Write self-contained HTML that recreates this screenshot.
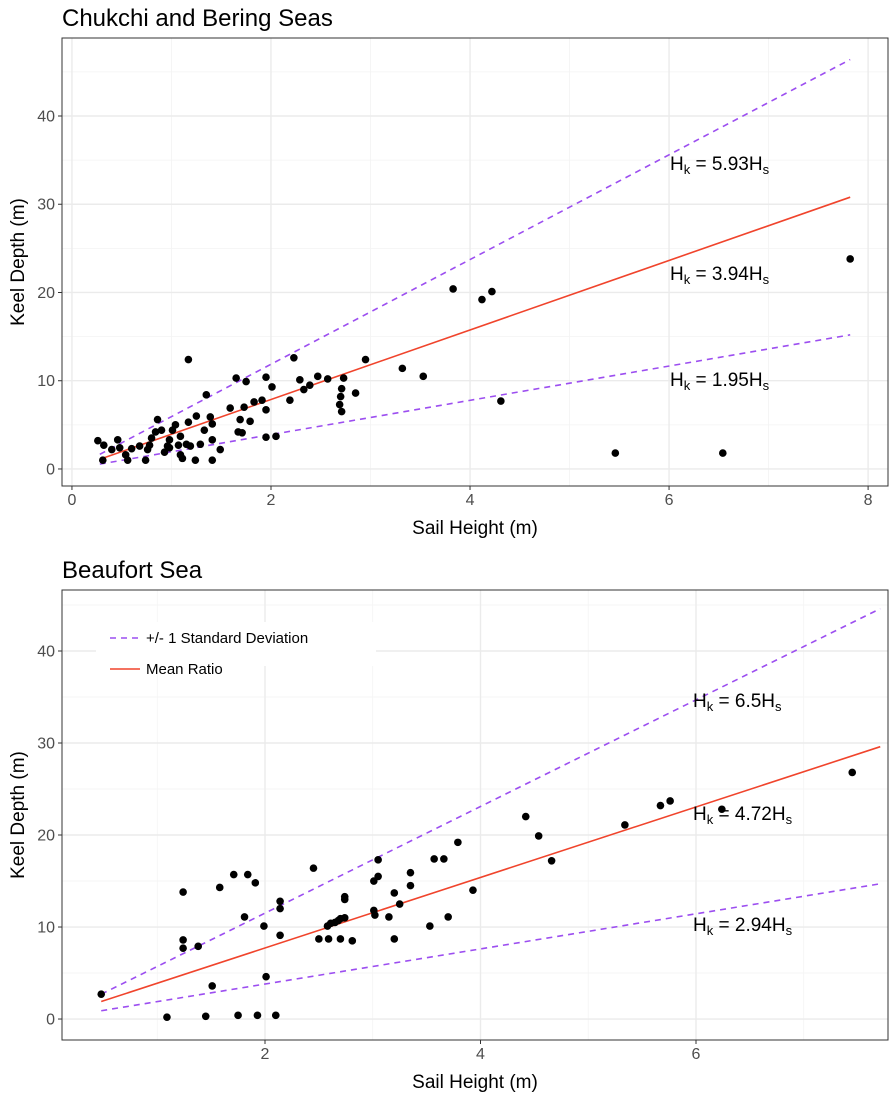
<!DOCTYPE html>
<html><head><meta charset="utf-8">
<style>
body{margin:0;background:#fff;font-family:"Liberation Sans",Arial,sans-serif;}
svg text{font-family:"Liberation Sans",Arial,sans-serif;}
</style></head>
<body>
<svg id="chart" width="891" height="1095" xmlns="http://www.w3.org/2000/svg"></svg>
<script>
// Top panel data
const topSail = [0.26,0.32,0.31,0.40,0.46,0.48,0.54,0.56,0.60,0.68,0.74,0.76,0.78,0.80,0.84,0.86,0.90,0.93,0.96,0.98,1.01,1.04,1.07,1.09,1.11,0.98,1.09,1.15,1.17,1.19,1.17,1.24,1.25,1.29,1.33,1.35,1.41,1.41,1.39,1.41,1.49,1.59,1.65,1.67,1.69,1.71,1.75,1.73,1.79,1.83,1.91,1.95,1.95,1.95,2.01,2.05,2.19,2.23,2.29,2.33,2.39,2.47,2.57,2.73,2.71,2.70,2.71,2.69,2.85,2.95,3.32,3.53,3.83,4.12,4.22,4.31,5.46,6.54,7.82];
const topKeel = [3.2,2.7,1.0,2.2,3.3,2.4,1.6,1.0,2.3,2.6,1.0,2.2,2.7,3.5,4.2,5.6,4.4,1.9,2.6,3.3,4.4,5.0,2.7,1.6,1.2,2.4,3.7,2.8,5.3,2.6,12.4,1.0,6.0,2.8,4.4,8.4,3.3,1.0,5.9,5.1,2.2,6.9,10.3,4.2,5.6,4.1,9.9,7.0,5.4,7.6,7.8,10.4,3.6,6.7,9.3,3.7,7.8,12.6,10.1,9.0,9.5,10.5,10.2,10.3,9.1,8.2,6.5,7.3,8.6,12.4,11.4,10.5,20.4,19.2,20.1,7.7,1.8,1.8,23.8];
const topRatios = [5.93,3.94,1.95];
const topLineX = [0.28,7.82];
const topLineStart = [1.66,1.10,0.55];
const topLineEnd = [46.4,30.8,15.2];
// Bottom panel data
const botSail = [0.48,1.09,1.24,1.24,1.24,1.38,1.51,1.45,1.58,1.71,1.84,1.91,1.81,1.99,2.01,1.75,1.93,2.10,2.14,2.14,2.14,2.45,2.50,2.59,2.70,2.81,2.58,2.61,2.65,2.68,2.70,2.74,2.74,2.74,3.01,3.05,3.05,3.01,3.02,3.15,3.20,3.20,3.25,3.35,3.35,3.53,3.57,3.66,3.70,3.79,3.93,4.42,4.54,4.66,5.34,5.67,5.76,6.24,7.45];
const botKeel = [2.7,0.2,13.8,8.6,7.7,7.9,3.6,0.3,14.3,15.7,15.7,14.8,11.1,10.1,4.6,0.4,0.4,0.4,12.8,12.0,9.1,16.4,8.7,8.7,8.7,8.5,10.1,10.4,10.5,10.7,10.9,11.0,13.3,13.0,15.0,15.5,17.3,11.8,11.3,11.1,13.7,8.7,12.5,15.9,14.5,10.1,17.4,17.4,11.1,19.2,14.0,22.0,19.9,17.2,21.1,23.2,23.7,22.8,26.8];
const botRatios = [6.5,4.72,2.94];
const botLineX = [0.48,7.71];
const botLineStart = [2.7,1.9,0.9];
const botLineEnd = [44.6,29.6,14.7];
const xTicksTop = [0,2,4,6,8];
const xTicksBot = [2,4,6];
const yTicks = [0,10,20,30,40];

const svg = document.getElementById('chart');
const NS = 'http://www.w3.org/2000/svg';
function mk(tag, attrs, parent){const e=document.createElementNS(NS,tag);for(const k in attrs)e.setAttribute(k,attrs[k]);(parent||svg).appendChild(e);return e;}

function panel(cfg){
  const g = mk('g',{});
  
  
  const sx = v => cfg.px0 + (v - cfg.xmin)/(cfg.xmax - cfg.xmin)*(cfg.px1 - cfg.px0);
  const sy = v => cfg.py1 - (v - cfg.ymin)/(cfg.ymax - cfg.ymin)*(cfg.py1 - cfg.py0);
  mk('rect',{x:cfg.px0,y:cfg.py0,width:cfg.px1-cfg.px0,height:cfg.py1-cfg.py0,fill:'#fff'},g);
  for(let v=Math.ceil(cfg.xmin);v<=cfg.xmax;v++){ if(v%2===1) mk('line',{x1:sx(v),x2:sx(v),y1:cfg.py0,y2:cfg.py1,stroke:'#f3f3f3','stroke-width':0.8},g);}
  for(let v=5;v<=cfg.ymax;v+=10){ mk('line',{x1:cfg.px0,x2:cfg.px1,y1:sy(v),y2:sy(v),stroke:'#f3f3f3','stroke-width':0.8},g);}
  cfg.xticks.forEach(v=>{
    mk('line',{x1:sx(v),x2:sx(v),y1:cfg.py0,y2:cfg.py1,stroke:'#ebebeb','stroke-width':1.4},g);
    mk('line',{x1:sx(v),x2:sx(v),y1:cfg.py1,y2:cfg.py1+4,stroke:'#333','stroke-width':1},g);
    const t=mk('text',{x:sx(v),y:cfg.py1+19,'text-anchor':'middle','font-size':16,fill:'#4d4d4d'},g);t.textContent=v;
    
    
  });
  yTicks.forEach(v=>{
    mk('line',{x1:cfg.px0,x2:cfg.px1,y1:sy(v),y2:sy(v),stroke:'#ebebeb','stroke-width':1.4},g);
    mk('line',{x1:cfg.px0-4,x2:cfg.px0,y1:sy(v),y2:sy(v),stroke:'#333','stroke-width':1},g);
    const t=mk('text',{x:cfg.px0-7,y:sy(v)+5.5,'text-anchor':'end','font-size':16,fill:'#4d4d4d'},g);t.textContent=v;
    
    
  });
  cfg.ratios.forEach((r,i)=>{
    const l=mk('line',{x1:sx(cfg.lx[0]),y1:sy(cfg.ls[i]),x2:sx(cfg.lx[1]),y2:sy(cfg.le[i]),stroke:i===1?'#f0442c':'#9c4ef0','stroke-width':1.6,'stroke-dasharray':i===1?'none':'6,5'},g);
    
    
  });
  cfg.xs.forEach((x,i)=>{
    const c=mk('circle',{cx:sx(x),cy:sy(cfg.ys[i]),r:3.8,fill:'#000'},g);
    
    
  });
  mk('rect',{x:cfg.px0,y:cfg.py0,width:cfg.px1-cfg.px0,height:cfg.py1-cfg.py0,fill:'none',stroke:'#333','stroke-width':1},g);
  cfg.ratios.forEach((r,i)=>{
    const t=mk('text',{x:cfg.annX,y:cfg.annY[i],'font-size':19,fill:'#000'},g);
    t.innerHTML='H<tspan font-size="13" dy="4">k</tspan><tspan dy="-4"> = '+r+'H</tspan><tspan font-size="13" dy="4">s</tspan>';
    
    
  });
  const tt=mk('text',{x:cfg.px0,y:cfg.py0-12,'font-size':24,fill:'#000'},g);tt.textContent=cfg.title;
  
  
  const xt=mk('text',{x:(cfg.px0+cfg.px1)/2,y:cfg.py1+48,'text-anchor':'middle','font-size':19,fill:'#000'},g);xt.textContent='Sail Height (m)';
  
  
  const ym=(cfg.py0+cfg.py1)/2;
  const yt=mk('text',{x:24,y:ym,'text-anchor':'middle','font-size':19,fill:'#000',transform:'rotate(-90 24 '+ym+')'},g);yt.textContent='Keel Depth (m)';
  
  
  return g;
}

panel({name:'chukchi-bering-panel',title:'Chukchi and Bering Seas',px0:62,px1:888,py0:38,py1:486,xmin:-0.1,xmax:8.2,ymin:-1.93,ymax:48.84,xticks:xTicksTop,xs:topSail,ys:topKeel,ratios:topRatios,lx:topLineX,ls:topLineStart,le:topLineEnd,annX:670,annY:[170,280,386]});
panel({name:'beaufort-panel',title:'Beaufort Sea',px0:62,px1:888,py0:590,py1:1040,xmin:0.116,xmax:7.782,ymin:-2.28,ymax:46.63,xticks:xTicksBot,xs:botSail,ys:botKeel,ratios:botRatios,lx:botLineX,ls:botLineStart,le:botLineEnd,annX:693,annY:[707,820,931]});

const lg=mk('g',{});


mk('rect',{x:96,y:622,width:280,height:44,fill:'#fff'},lg);
mk('line',{x1:110,x2:140,y1:638,y2:638,stroke:'#9c4ef0','stroke-width':1.6,'stroke-dasharray':'6,5'},lg);
const l1=mk('text',{x:146,y:643,'font-size':15,fill:'#000'},lg);l1.textContent='+/- 1 Standard Deviation';


mk('line',{x1:110,x2:140,y1:669,y2:669,stroke:'#f0442c','stroke-width':1.6},lg);
const l2=mk('text',{x:146,y:674,'font-size':15,fill:'#000'},lg);l2.textContent='Mean Ratio';


</script>
</body></html>
